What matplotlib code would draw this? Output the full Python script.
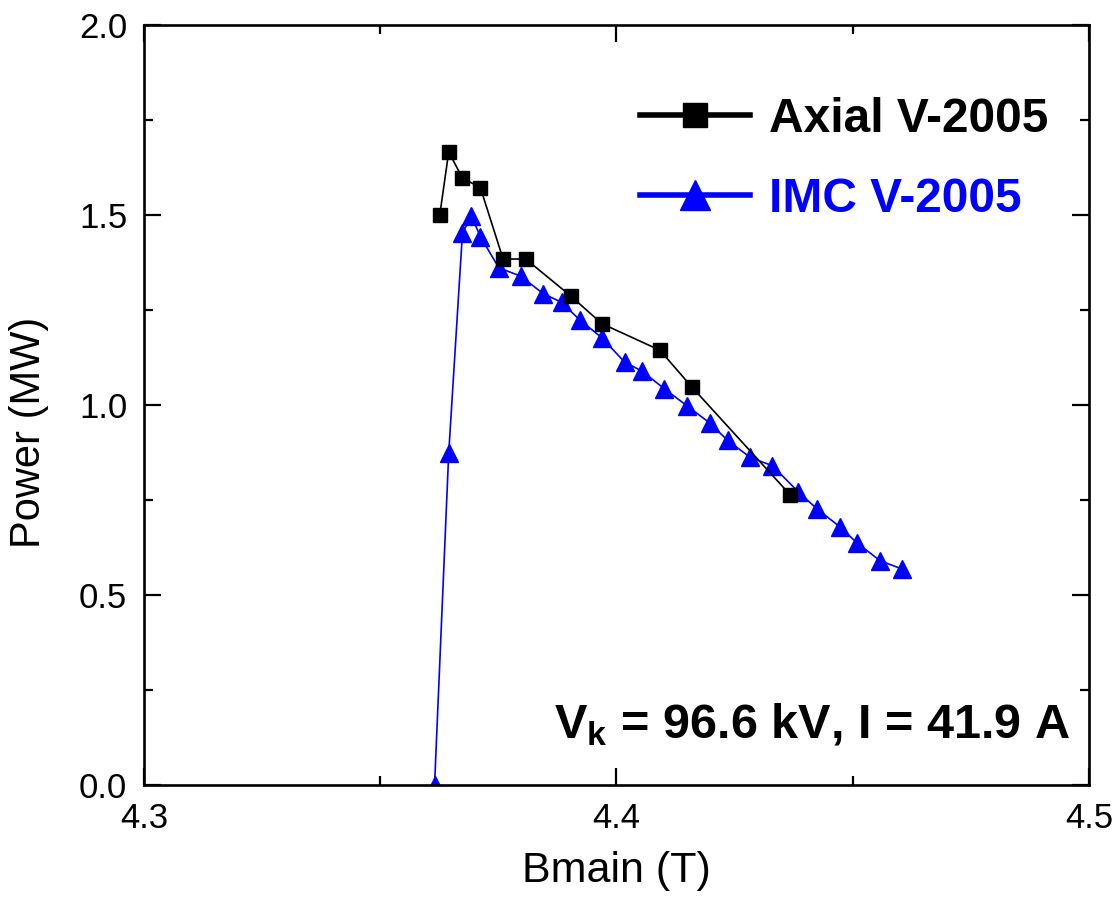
import matplotlib
matplotlib.use("Agg")
import matplotlib.pyplot as plt
from matplotlib.ticker import MultipleLocator

plt.rcParams['font.family'] = ['Liberation Sans', 'DejaVu Sans']
plt.rcParams['mathtext.fontset'] = 'custom'
plt.rcParams['mathtext.rm'] = 'Liberation Sans'
plt.rcParams['mathtext.bf'] = 'Liberation Sans:bold'
plt.rcParams['mathtext.it'] = 'Liberation Sans:italic'

# Data
axial_x = [4.3626, 4.3645, 4.3674, 4.3712, 4.3760, 4.3808, 4.3903, 4.3969,
           4.4092, 4.4159, 4.4368]
axial_y = [1.500, 1.666, 1.597, 1.572, 1.384, 1.384, 1.287, 1.214,
           1.144, 1.048, 0.763]

imc_x = [4.3615, 4.3645, 4.3674, 4.3693, 4.3712, 4.3751, 4.3797, 4.3845,
         4.3884, 4.3922, 4.3969, 4.4017, 4.4054, 4.4101, 4.4149, 4.4197,
         4.4235, 4.4283, 4.4330, 4.4385, 4.4424, 4.4472, 4.4510, 4.4558,
         4.4605]
imc_y = [0.000, 0.874, 1.452, 1.497, 1.443, 1.361, 1.339, 1.293,
         1.270, 1.224, 1.177, 1.113, 1.089, 1.043, 0.998, 0.953,
         0.907, 0.862, 0.840, 0.771, 0.727, 0.680, 0.636, 0.590,
         0.568]

labels = ["Axial V-2005", "IMC V-2005"]
colors = ["black", "#0000ff"]

fig = plt.figure(figsize=(11.16, 9.08), dpi=100)
ax = fig.add_axes([0.129, 0.1355, 0.8468, 0.837])

ax.plot(axial_x, axial_y, color=colors[0], lw=1.2, marker='s', ms=10.5,
        label=labels[0], zorder=3)
ax.plot(imc_x, imc_y, color=colors[1], lw=1.2, marker='^', ms=13,
        label=labels[1], zorder=2)

ax.set_xlim(4.3, 4.5)
ax.set_ylim(0.0, 2.0)
ax.xaxis.set_major_locator(MultipleLocator(0.1))
ax.xaxis.set_minor_locator(MultipleLocator(0.05))
ax.yaxis.set_major_locator(MultipleLocator(0.5))
ax.yaxis.set_minor_locator(MultipleLocator(0.25))
ax.xaxis.set_major_formatter(matplotlib.ticker.FormatStrFormatter('%.1f'))
ax.yaxis.set_major_formatter(matplotlib.ticker.FormatStrFormatter('%.1f'))

ax.tick_params(which='both', direction='in', top=True, right=True,
               width=1.6, labelsize=25, pad=12)
ax.tick_params(which='major', length=12)
ax.tick_params(which='minor', length=6.5)
for s in ax.spines.values():
    s.set_linewidth(1.9)

ax.set_xlabel("Bmain (T)", fontsize=31, labelpad=12)
ax.set_ylabel("Power (MW)", fontsize=30)
ax.yaxis.set_label_coords(-0.1, 0.464)

leg = ax.legend(loc='upper left', bbox_to_anchor=(0.525, 0.905),
                frameon=False, borderpad=0, borderaxespad=0,
                handlelength=2.3, handletextpad=0.38, labelspacing=0.72,
                markerscale=1.7, prop={'size': 34.5, 'weight': 'bold'})
for t, c in zip(leg.get_texts(), colors):
    t.set_color(c)
for l in leg.get_lines():
    l.set_linewidth(4)

ax.text(0.980, 0.062, r'V$_\mathbf{k}$ = 96.6 kV, I = 41.9 A',
        transform=ax.transAxes, ha='right', va='baseline',
        fontsize=35, fontweight='bold')

fig.savefig("out.png", dpi=100)
